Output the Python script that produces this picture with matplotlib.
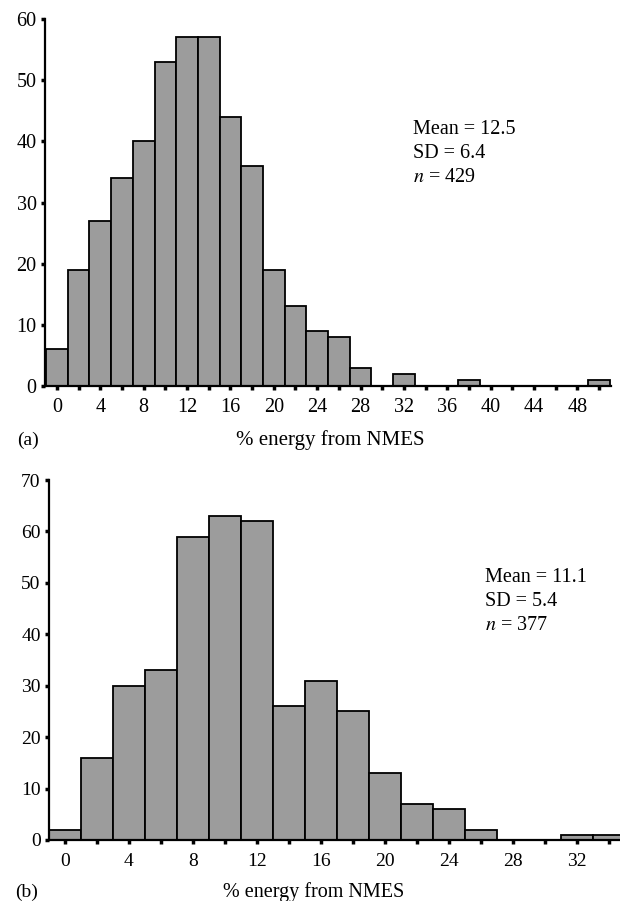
import matplotlib
matplotlib.use("Agg")
import matplotlib.pyplot as plt
import numpy as np

# Panel (a) data: bin centres (% energy from NMES) and counts
bins_a = [0, 2, 4, 6, 8, 10, 12, 14, 16, 18, 20, 22, 24, 26, 28, 30, 32, 34,
          36, 38, 40, 42, 44, 46, 48, 50]
counts_a = [6, 19, 27, 34, 40, 53, 57, 57, 44, 36, 19, 13, 9, 8, 3, 0, 2, 0,
            0, 1, 0, 0, 0, 0, 0, 1]
ticks_a = [0, 4, 8, 12, 16, 20, 24, 28, 32, 36, 40, 44, 48]
stats_a = ["Mean = 12.5", "SD = 6.4", "n = 429"]

# Panel (b) data
bins_b = [0, 2, 4, 6, 8, 10, 12, 14, 16, 18, 20, 22, 24, 26, 28, 30, 32, 34]
counts_b = [2, 16, 30, 33, 59, 63, 62, 26, 31, 25, 13, 7, 6, 2, 0, 0, 1, 1]
ticks_b = [0, 4, 8, 12, 16, 20, 24, 28, 32]
stats_b = ["Mean = 11.1", "SD = 5.4", "n = 377"]

xlabel = "% energy from NMES"

plt.rcParams['font.family'] = ['Liberation Serif', 'DejaVu Serif']
W, H = 620, 901
fig = plt.figure(figsize=(W / 100, H / 100), dpi=100)
fig.patch.set_facecolor('white')

BAR = '#9c9c9c'


def frac(x0, y0, x1, y1):
    return [x0 / W, 1 - y1 / H, (x1 - x0) / W, (y1 - y0) / H]


def panel(rect, bins, counts, ticks, ymax, xlim, fs):
    ax = fig.add_axes(rect)
    ax.bar(bins, counts, width=2, color=BAR, edgecolor='black', linewidth=1.3,
           align='center', zorder=2, clip_on=True)
    ax.set_xlim(*xlim)
    ax.set_ylim(0, ymax)
    ax.spines['top'].set_visible(False)
    ax.spines['right'].set_visible(False)
    for s in ('left', 'bottom'):
        ax.spines[s].set_linewidth(1.6)
        ax.spines[s].set_color('black')
    ax.set_xticks(bins, minor=True)
    ax.set_xticks(ticks)
    ax.set_xticklabels([str(t) for t in ticks], fontsize=fs)
    ax.set_yticks(np.arange(0, ymax + 1, 10))
    ax.set_yticklabels([str(int(v)) for v in np.arange(0, ymax + 1, 10)], fontsize=fs)
    ax.tick_params(axis='x', which='both', direction='out', length=3, width=2.5, pad=6)
    ax.tick_params(axis='y', direction='out', length=3, width=2.5, pad=3)
    ax.set_facecolor('white')
    return ax


ax1 = panel(frac(45, 19, 611, 386), bins_a, counts_a, ticks_a, 60, (-1.1, 51.1), 14.5)
ax2 = panel(frac(49, 480, 620, 840), bins_b, counts_b, ticks_b, 70, (-1.0, 34.7), 14)


def stats(x, y, lines, fs):
    for i, t in enumerate(lines):
        if t.startswith('n ='):
            s = r'$\mathit{n}$' + t[1:]
        else:
            s = t
        fig.text(x / W, 1 - (y + i * 24) / H, s, fontsize=fs, va='center', ha='left',
                 math_fontfamily='stix')


stats(413, 130, stats_a, 14.5)
stats(485, 578, stats_b, 14.5)

fig.text(17 / W, 1 - 440 / H, "(a)", fontsize=14, va='center', ha='left')
fig.text(330 / W, 1 - 440 / H, xlabel, fontsize=15, va='center', ha='center')
fig.text(15 / W, 1 - 892 / H, "(b)", fontsize=14, va='center', ha='left')
fig.text(314 / W, 1 - 892 / H, xlabel, fontsize=14.5, va='center', ha='center')

fig.savefig("out.png", dpi=100, facecolor='white')
